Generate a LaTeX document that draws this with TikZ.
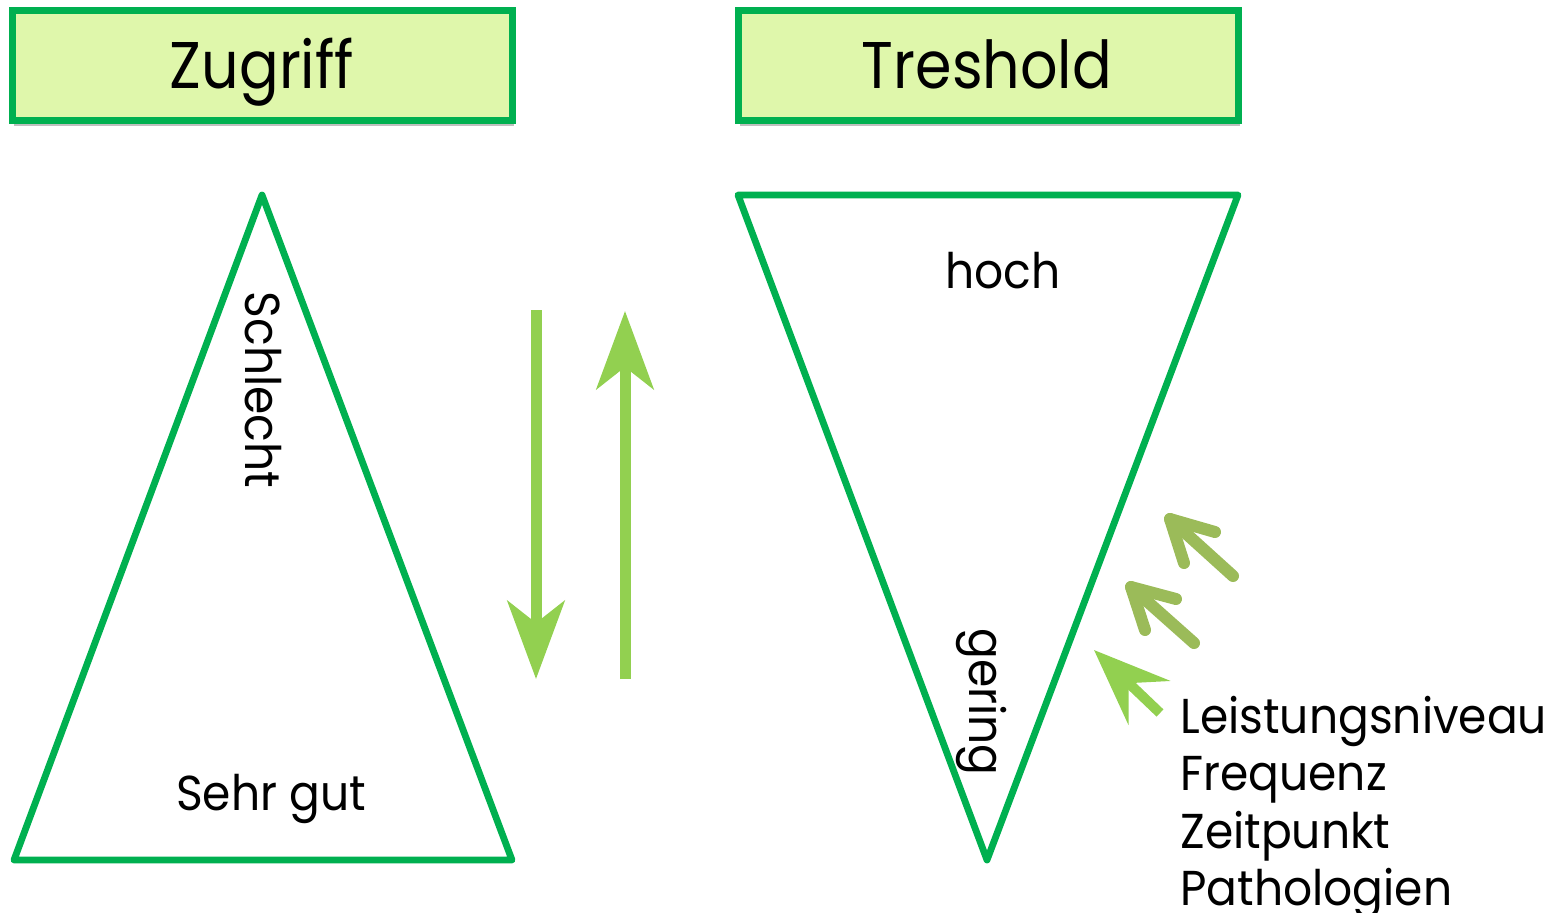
\documentclass[tikz,border=0pt]{standalone}
\usepackage{fontspec}
\setmainfont{Poppins}[FakeStretch=0.93]
\newfontfamily\titlefont{Poppins}[FakeStretch=0.89]
\usetikzlibrary{arrows.meta,shadows}
\definecolor{tgreen}{HTML}{00B050}
\definecolor{boxfill}{HTML}{DFF7AB}
\definecolor{lgreen}{HTML}{92D050}
\definecolor{olive}{HTML}{9BBB59}
\tikzset{
  titlebox/.style={draw=tgreen, line width=3.5pt, fill=boxfill, minimum width=250pt, minimum height=55pt, inner sep=0pt,
     drop shadow={opacity=0.5, shadow xshift=1pt, shadow yshift=-2.5pt}},
  titletext/.style={font=\titlefont\fontsize{33}{40}\selectfont, inner sep=0pt, anchor=base},
  tri/.style={draw=tgreen, line width=3.4pt, line join=round},
  lbl/.style={font=\fontsize{24.5}{29}\selectfont, inner sep=0pt},
  bigarrow/.style={draw=lgreen, line width=5.5pt, -{Stealth[length=39pt, width=28.5pt, inset=11pt]}},
  chev/.style={draw=olive, line width=6pt, line cap=round, line join=round},
  barb/.style={draw=lgreen, line width=5pt, -{Stealth[length=38pt, width=30pt, inset=14pt]}}
}
\begin{document}
\begin{tikzpicture}[x=0.5pt, y=-0.5pt]
\useasboundingbox (0,0) rectangle (1558,912);
% title boxes
\node[titlebox] (zug) at (262,65.5) {};
\node[titletext] (zugt) at (262,88) {Zugriff};
\node[titlebox] (tre) at (988,65.5) {};
\node[titletext] (tret) at (987,88) {Treshold};
% triangles
\draw[tri] (262,195) -- (14,860) -- (512,860) -- cycle;
\draw[tri] (738,195) -- (1238,195) -- (987,860) -- cycle;
% labels
\node[lbl, rotate=-90] (schl) at (263,390) {Schlecht};
\node[lbl, anchor=base] (sehr) at (271,810) {Sehr gut};
\node[lbl, anchor=base] (hoch) at (1003,288) {hoch};
\node[lbl, rotate=-90] (ger) at (982,702) {gering};
% vertical arrows
\coordinate (d1) at (536,310);
\coordinate (d2) at (536,679);
\coordinate (u1) at (625,679);
\coordinate (u2) at (625,311);
\draw[bigarrow] (d1) -- (d2);
\draw[bigarrow] (u1) -- (u2);
% diagonal arrows
\coordinate (a1tip) at (1170,519);
\coordinate (a1tail) at (1233,576);
\coordinate (a1w1) at (1215,532);
\coordinate (a1w2) at (1184,563);
\draw[chev] (a1tail) -- (a1tip);
\draw[chev] (a1w1) -- (a1tip) -- (a1w2);
\coordinate (a2tip) at (1131,587);
\coordinate (a2tail) at (1194,643);
\coordinate (a2w1) at (1176,599);
\coordinate (a2w2) at (1145,630);
\draw[chev] (a2tail) -- (a2tip);
\draw[chev] (a2w1) -- (a2tip) -- (a2w2);
\coordinate (a3tail) at (1160,713);
\coordinate (a3tip) at (1094,650);
\draw[barb] (a3tail) -- (a3tip);
% list
\node[lbl, anchor=base west] (l1) at (1180,733) {Leistungsniveau};
\node[lbl, anchor=base west] (l2) at (1180,790) {Frequenz};
\node[lbl, anchor=base west] (l3) at (1180,848) {Zeitpunkt};
\node[lbl, anchor=base west] (l4) at (1180,905) {Pathologien};
\end{tikzpicture}
\end{document}
